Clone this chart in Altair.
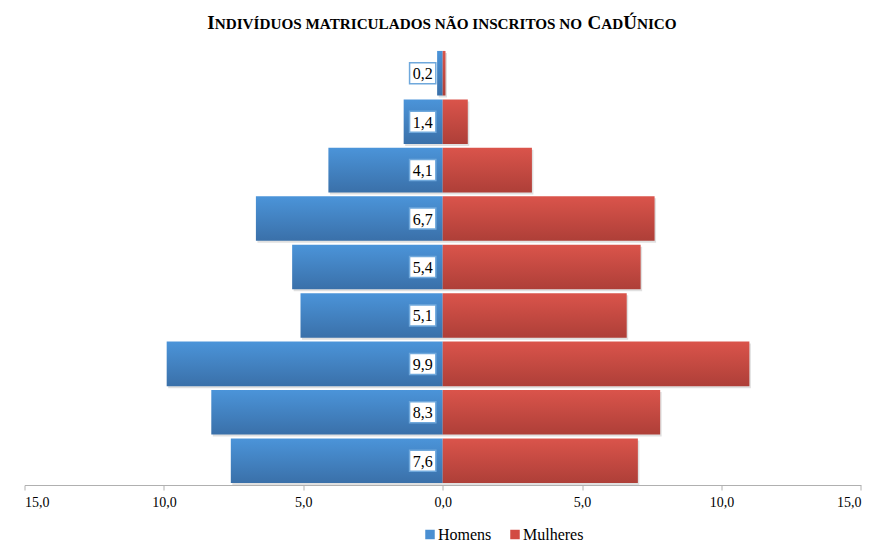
import altair as alt
import pandas as pd

# Faixas de cima para baixo (sem rótulo no eixo)
faixas = ["F1", "F2", "F3", "F4", "F5", "F6", "F7", "F8", "F9"]
homens = [0.2, 1.4, 4.1, 6.7, 5.4, 5.1, 9.9, 8.3, 7.6]
mulheres = [0.1, 0.9, 3.2, 7.6, 7.1, 6.6, 11.0, 7.8, 7.0]
eixo_ticks = [-15, -10, -5, 0, 5, 10, 15]
series = ["Homens", "Mulheres"]
titulo = "Indivíduos matriculados não inscritos no CadÚnico"

rows = []
for f, h, m in zip(faixas, homens, mulheres):
    rows.append({"faixa": f, "sexo": series[0], "valor": h, "x": -h})
    rows.append({"faixa": f, "sexo": series[1], "valor": m, "x": m})
df = pd.DataFrame(rows)

W, H = 836.4, 436
PAD_L, PAD_T = 24.5, 49
SERIF = "Liberation Serif"

x_scale = alt.Scale(domain=[-15, 15], nice=False, zero=False)
y_scale = alt.Scale(domain=faixas, paddingInner=0.08, paddingOuter=0.04)

x_enc = alt.X(
    "x:Q",
    scale=x_scale,
    axis=alt.Axis(
        values=eixo_ticks,
        labelExpr="replace(format(abs(datum.value), '.1f'), '.', ',')",
        title=None,
        grid=False,
        domainColor="#b0b0b0",
        tickColor="#b0b0b0",
        tickSize=5,
        labelFont=SERIF,
        labelFontSize=14,
        labelColor="black",
        labelPadding=5,
    ),
)
y_enc = alt.Y("faixa:N", scale=y_scale, sort=faixas, axis=None)


def grad(top, bottom):
    return alt.Gradient(
        gradient="linear",
        stops=[alt.GradientStop(color=top, offset=0), alt.GradientStop(color=bottom, offset=1)],
        x1=0, x2=0, y1=0, y2=1,
    )


azul = grad("#4b94d9", "#3a70a9")
vermelho = grad("#da544b", "#ae3f38")

base = alt.Chart(df)

sombra = base.mark_bar(color="black", opacity=0.12, xOffset=1.5, yOffset=2).encode(
    x=x_enc, x2=alt.datum(0), y=y_enc
)
barras_h = base.transform_filter(alt.datum.sexo == series[0]).mark_bar(fill=azul).encode(
    x=x_enc, x2=alt.datum(0), y=y_enc
)
barras_m = base.transform_filter(alt.datum.sexo == series[1]).mark_bar(fill=vermelho).encode(
    x=x_enc, x2=alt.datum(0), y=y_enc
)

# Caixas brancas com os valores dos homens, junto ao eixo central
caixa = base.transform_filter(alt.datum.sexo == series[0]).mark_point(
    shape="M-1.25,-1L1.25,-1L1.25,1L-1.25,1Z",
    size=441,
    filled=True,
    fill="white",
    stroke="#6fa8dc",
    strokeWidth=1.5,
    opacity=1,
    xOffset=-20,
).encode(x=alt.datum(0), y=y_enc)

rotulos = base.transform_filter(alt.datum.sexo == series[0]).transform_calculate(
    label="replace(format(datum.valor, '.1f'), '.', ',')"
).mark_text(font=SERIF, fontSize=16, color="black", dx=-20, dy=1, align="center", baseline="middle").encode(
    x=alt.datum(0), y=y_enc, text="label:N"
)

# Título em versaletes: iniciais maiores, demais letras menores
S_BIG, S_SMALL = 19, 15.2
TIMES_BOLD = {
    " ": 250, "A": 722, "C": 722, "D": 722, "I": 389, "L": 667, "M": 944, "N": 722,
    "O": 778, "R": 722, "S": 556, "T": 667, "U": 722, "V": 722, "Í": 389, "Ã": 722, "Ú": 722,
}
segmentos = []
palavras = titulo.split(" ")
for i, palavra in enumerate(palavras):
    texto = palavra + (" " if i < len(palavras) - 1 else "")
    for ch in texto:
        grande = ch.isupper()
        tam = S_BIG if grande else S_SMALL
        if segmentos and segmentos[-1][1] == tam:
            segmentos[-1][0] += ch.upper()
        else:
            segmentos.append([ch.upper(), tam])


def largura(txt, tam):
    return sum(TIMES_BOLD.get(c, 722) for c in txt) / 1000 * tam


total = sum(largura(t, s) for t, s in segmentos)
x0 = 442 - PAD_L - total / 2
titulo_layers = []
for t, s in segmentos:
    titulo_layers.append(
        alt.Chart(pd.DataFrame({"t": [t]}))
        .mark_text(font=SERIF, fontWeight="bold", fontSize=s, color="black", align="left", baseline="alphabetic")
        .encode(text="t:N", x=alt.value(x0), y=alt.value(29 - PAD_T))
    )
    x0 += largura(t, s)

# Legenda desenhada abaixo do eixo
um = pd.DataFrame({"t": [0]})
legenda = []
for nome, cor, sx in [(series[0], "#4a8fd2", 430), (series[1], "#d24b43", 515)]:
    legenda.append(
        alt.Chart(um).mark_point(shape="square", size=90, filled=True, color=cor, opacity=1).encode(
            x=alt.value(sx - PAD_L), y=alt.value(534.5 - PAD_T)
        )
    )
    legenda.append(
        alt.Chart(pd.DataFrame({"t": [nome]}))
        .mark_text(font=SERIF, fontSize=16, color="black", align="left", baseline="alphabetic")
        .encode(text="t:N", x=alt.value(sx + 8 - PAD_L), y=alt.value(540 - PAD_T))
    )

chart = (
    alt.layer(sombra, barras_h, barras_m, caixa, rotulos, *titulo_layers, *legenda)
    .properties(
        width=W,
        height=H,
        padding={"left": PAD_L, "top": PAD_T, "right": 875 - PAD_L - W, "bottom": 542 - PAD_T - H},
        autosize=alt.AutoSizeParams(type="none"),
        background="white",
    )
    .configure_view(stroke=None)
)

chart.save("out.html", embed_options={"renderer": "svg", "actions": False})
